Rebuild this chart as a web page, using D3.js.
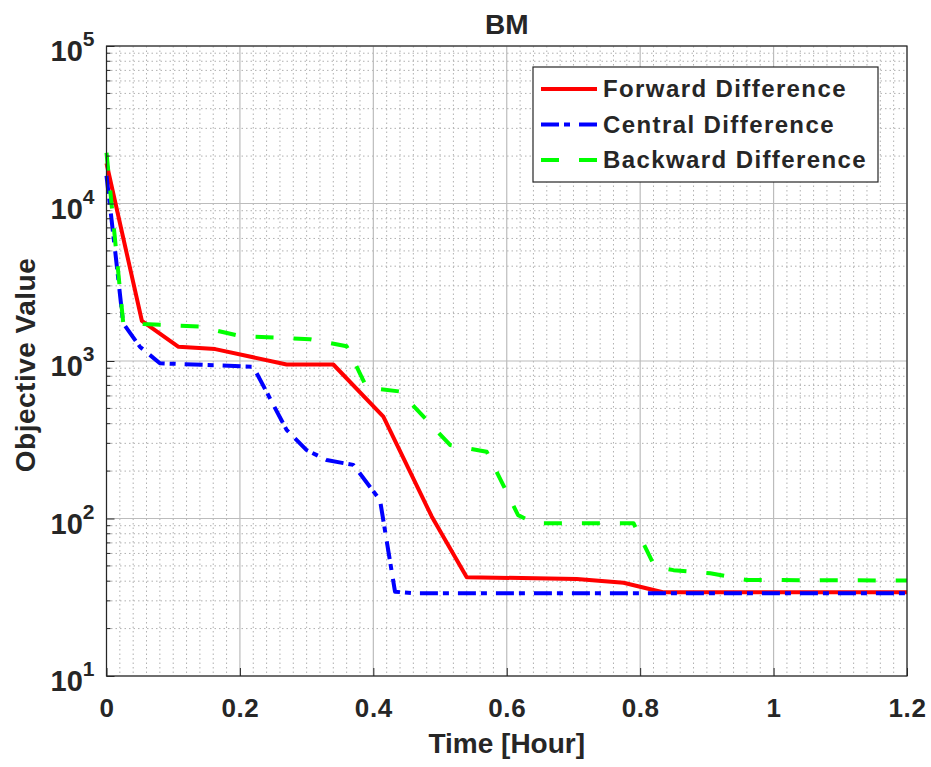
<!DOCTYPE html>
<html>
<head>
<meta charset="utf-8">
<script src="https://cdn.jsdelivr.net/npm/d3@7"></script>
<style>
  body { margin: 0; background: #fff; }
  svg text { font-family: "Liberation Sans", Arial, sans-serif; font-weight: bold; fill: #262626; }
</style>
</head>
<body>
<svg id="chart" width="931" height="767"></svg>
<script>
// values
const forwardTime = [0, 0.053, 0.108, 0.163, 0.27, 0.34, 0.415, 0.4875, 0.54, 0.705, 0.775, 0.834, 1.2];
const forwardValue = [18000, 1800, 1230, 1190, 950, 950, 443, 103, 42.4, 41.3, 39.1, 34, 34];

const centralTime = [0, 0.0128, 0.025, 0.05, 0.08, 0.22, 0.27, 0.30, 0.33, 0.37, 0.41, 0.4325, 0.46, 1.2];
const centralValue = [15000, 5070, 1735, 1233, 967, 920, 365, 272, 235, 219, 131, 34.3, 33.5, 33.5];

const backwardTime = [0, 0.025, 0.055, 0.14, 0.2, 0.305, 0.36, 0.39, 0.44, 0.515, 0.57, 0.617, 0.642, 0.79, 0.822, 0.85, 0.905, 0.96, 1.2];
const backwardValue = [21000, 1760, 1718, 1652, 1441, 1374, 1240, 680, 640, 293, 265, 105, 93.3, 93.3, 49.4, 47, 44.9, 40.7, 40.4];

const seriesNames = ["Forward Difference", "Central Difference", "Backward Difference"];
const xTicks = [0, 0.2, 0.4, 0.6, 0.8, 1, 1.2];
const yTicks = [10, 100, 1000, 10000, 100000];

const svg = d3.select("#chart");
const plotLeft = 106.5, plotRight = 907, plotTop = 46, plotBottom = 676;

const x = d3.scaleLinear().domain([0, 1.2]).range([plotLeft, plotRight]);
const y = d3.scaleLog().domain([10, 100000]).range([plotBottom, plotTop]);

// minor grid
const xMinor = d3.range(0, 1.2001, 0.02).filter(v => Math.abs(v * 5 - Math.round(v * 5)) > 1e-6);
const yMinor = [];
yTicks.slice(0, -1).forEach(d => { for (let k = 2; k <= 9; k++) yMinor.push(d * k); });

const grid = svg.append("g");
grid.selectAll(".xminor").data(xMinor).join("line")
    .attr("x1", d => x(d)).attr("x2", d => x(d))
    .attr("y1", plotTop).attr("y2", plotBottom)
    .attr("stroke", "#b0b0b0").attr("stroke-width", 1).attr("stroke-dasharray", "1.5,3");
grid.selectAll(".yminor").data(yMinor).join("line")
    .attr("x1", plotLeft).attr("x2", plotRight)
    .attr("y1", d => y(d)).attr("y2", d => y(d))
    .attr("stroke", "#b0b0b0").attr("stroke-width", 1).attr("stroke-dasharray", "1.5,3");

// major grid
grid.selectAll(".xmajor").data(xTicks).join("line")
    .attr("x1", d => x(d)).attr("x2", d => x(d))
    .attr("y1", plotTop).attr("y2", plotBottom)
    .attr("stroke", "#bcbcbc").attr("stroke-width", 1.2);
grid.selectAll(".ymajor").data(yTicks).join("line")
    .attr("x1", plotLeft).attr("x2", plotRight)
    .attr("y1", d => y(d)).attr("y2", d => y(d))
    .attr("stroke", "#bcbcbc").attr("stroke-width", 1.2);

// series
const line = d3.line().x(d => x(d[0])).y(d => y(d[1]));
const series = [
    { t: forwardTime, v: forwardValue, color: "#ff0000", dash: null },
    { t: centralTime, v: centralValue, color: "#0000ff", dash: "18,5,6,9" },
    { t: backwardTime, v: backwardValue, color: "#00ff00", dash: "18,20" }
];
series.forEach(s => {
    svg.append("path")
        .datum(s.t.map((t, i) => [t, s.v[i]]))
        .attr("d", line)
        .attr("fill", "none")
        .attr("stroke", s.color)
        .attr("stroke-width", 4)
        .attr("stroke-linejoin", "round")
        .attr("stroke-dasharray", s.dash);
});

// box and ticks
svg.append("rect")
    .attr("x", plotLeft).attr("y", plotTop)
    .attr("width", plotRight - plotLeft).attr("height", plotBottom - plotTop)
    .attr("fill", "none").attr("stroke", "#262626").attr("stroke-width", 1.2);

const xAxis = d3.axisBottom(x).tickValues(xTicks).tickSizeInner(-8).tickSizeOuter(0)
    .tickFormat(d3.format("~g"));
const gx = svg.append("g").attr("transform", `translate(0,${plotBottom})`).call(xAxis);
gx.select(".domain").remove();
gx.selectAll("line").attr("stroke", "#262626");
gx.selectAll("text")
    .attr("y", 41).attr("dy", null)
    .attr("font-size", 26).attr("letter-spacing", 0.6)
    .attr("font-family", null).attr("fill", "#262626");

const yAxis = d3.axisLeft(y).tickValues(yTicks).tickSizeInner(-8).tickSizeOuter(0).tickFormat("");
const gy = svg.append("g").attr("transform", `translate(${plotLeft},0)`).call(yAxis);
gy.select(".domain").remove();
gy.selectAll("line").attr("stroke", "#262626");
gy.selectAll(".minor").data(yMinor).join("line")
    .attr("x1", 0).attr("x2", 4)
    .attr("y1", d => y(d)).attr("y2", d => y(d))
    .attr("stroke", "#262626");

// y tick labels as 10^n
yTicks.forEach(d => {
    const t = svg.append("text")
        .attr("x", plotLeft - 12).attr("y", y(d) + 15)
        .attr("text-anchor", "end").attr("font-size", 29);
    t.append("tspan").text("10");
    t.append("tspan").attr("dy", -15).attr("font-size", 21).text(Math.round(Math.log10(d)));
});

// title and axis labels
svg.append("text").attr("x", (plotLeft + plotRight) / 2).attr("y", 34)
    .attr("text-anchor", "middle").attr("font-size", 28).attr("fill", "#000").text("BM");
svg.append("text").attr("x", (plotLeft + plotRight) / 2).attr("y", 753)
    .attr("text-anchor", "middle").attr("font-size", 28).text("Time [Hour]");
svg.append("text")
    .attr("transform", `translate(35,${(plotTop + plotBottom) / 2 + 4}) rotate(-90)`)
    .attr("text-anchor", "middle").attr("font-size", 28).attr("letter-spacing", 0.5)
    .text("Objective Value");

// legend
const lg = svg.append("g").attr("transform", "translate(533,67)");
lg.append("rect").attr("width", 345).attr("height", 115)
    .attr("fill", "#fff").attr("stroke", "#262626").attr("stroke-width", 1.2);
series.forEach((s, i) => {
    const yy = 22 + i * 35.5;
    lg.append("line").attr("x1", 8).attr("x2", 64).attr("y1", yy).attr("y2", yy)
        .attr("stroke", s.color).attr("stroke-width", 4).attr("stroke-dasharray", s.dash);
    lg.append("text").attr("x", 70).attr("y", yy + 8).attr("font-size", 24)
        .attr("letter-spacing", 1.4).attr("fill", "#000").text(seriesNames[i]);
});
</script>
</body>
</html>
